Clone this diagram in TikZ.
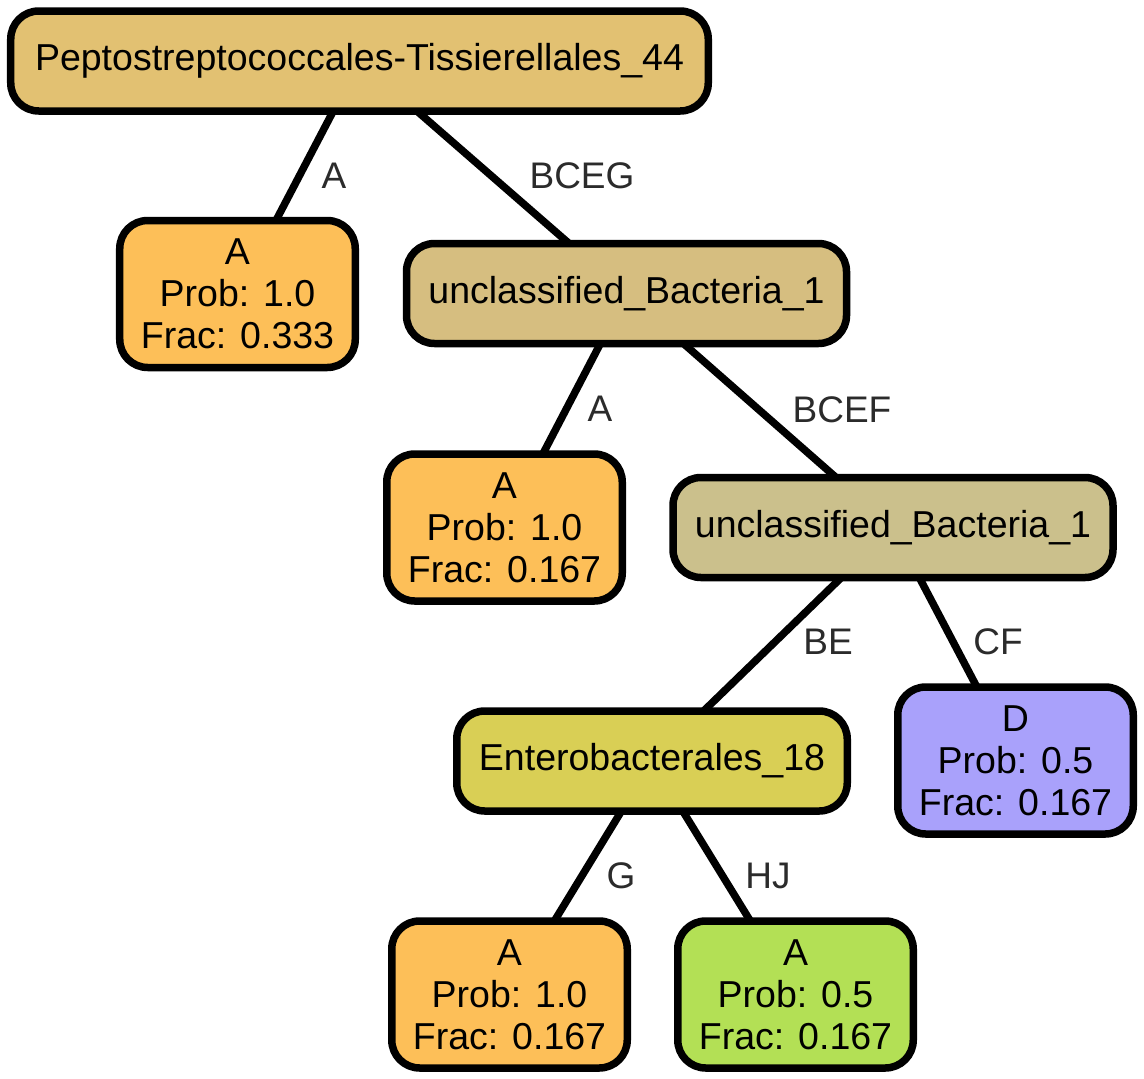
\documentclass[tikz,border=0pt]{standalone}
\usepackage{fontspec}
\setmainfont{Liberation Sans}
\usetikzlibrary{backgrounds}
\definecolor{cRoot}{HTML}{E2C172}
\definecolor{cOrange}{HTML}{FDBF58}
\definecolor{cUBa}{HTML}{D6BE80}
\definecolor{cUBb}{HTML}{CBC08C}
\definecolor{cEnt}{HTML}{D9CF55}
\definecolor{cD}{HTML}{A9A1FB}
\definecolor{cGreen}{HTML}{B3E055}
\definecolor{cLbl}{HTML}{2B2B2B}
\tikzset{
  box/.style={draw=black, line width=7.5bp, rounded corners=28bp, inner sep=0pt,
    align=center, font=\fontsize{37.5bp}{42bp}\selectfont},
  leaf/.style={box, minimum width=235.5bp, minimum height=147bp},
  wide/.style={box, minimum height=100bp},
  edge/.style={line width=7.5bp, draw=black},
  lbl/.style={inner sep=0pt, text=cLbl, font=\fontsize{37bp}{42bp}\selectfont, text height=26.5bp, text depth=0pt}
}
\begin{document}
\begin{tikzpicture}[x=1bp,y=-1bp]
\useasboundingbox (0,0) rectangle (1144,1079);
\node[wide, fill=cRoot, minimum width=697.5bp] (root) at (359.5,61) {Peptostreptococcales-Tissierellales\_44};
\node[leaf, fill=cOrange] (a1) at (237.5,294) {A\\Prob: 1.0\\Frac: 0.333};
\node[wide, fill=cUBa, minimum width=440bp] (ub1) at (626.5,293.5) {unclassified\_Bacteria\_1};
\node[leaf, fill=cOrange] (a2) at (504.5,527.5) {A\\Prob: 1.0\\Frac: 0.167};
\node[wide, fill=cUBb, minimum width=440bp] (ub2) at (893,527.5) {unclassified\_Bacteria\_1};
\node[wide, fill=cEnt, minimum width=390.5bp] (ent) at (652,761) {Enterobacterales\_18};
\node[leaf, fill=cD] (d) at (1015.5,760.5) {D\\Prob: 0.5\\Frac: 0.167};
\node[leaf, fill=cOrange] (a3) at (509.5,994.5) {A\\Prob: 1.0\\Frac: 0.167};
\node[leaf, fill=cGreen] (a4) at (795.5,994.5) {A\\Prob: 0.5\\Frac: 0.167};
\begin{pgfonlayer}{background}
\draw[edge] (root.center) -- (a1.center);
\draw[edge] (root.center) -- (ub1.center);
\draw[edge] (ub1.center) -- (a2.center);
\draw[edge] (ub1.center) -- (ub2.center);
\draw[edge] (ub2.center) -- (ent.center);
\draw[edge] (ub2.center) -- (d.center);
\draw[edge] (ent.center) -- (a3.center);
\draw[edge] (ent.center) -- (a4.center);
\end{pgfonlayer}
\node[lbl] (l1) at (334,175) {A};
\node[lbl] (l2) at (582,175) {BCEG};
\node[lbl] (l3) at (600,408) {A};
\node[lbl] (l4) at (842,409) {BCEF};
\node[lbl] (l5) at (828,641) {BE};
\node[lbl] (l6) at (998,641) {CF};
\node[lbl] (l7) at (621,875) {G};
\node[lbl] (l8) at (768,875) {HJ};
\end{tikzpicture}
\end{document}
